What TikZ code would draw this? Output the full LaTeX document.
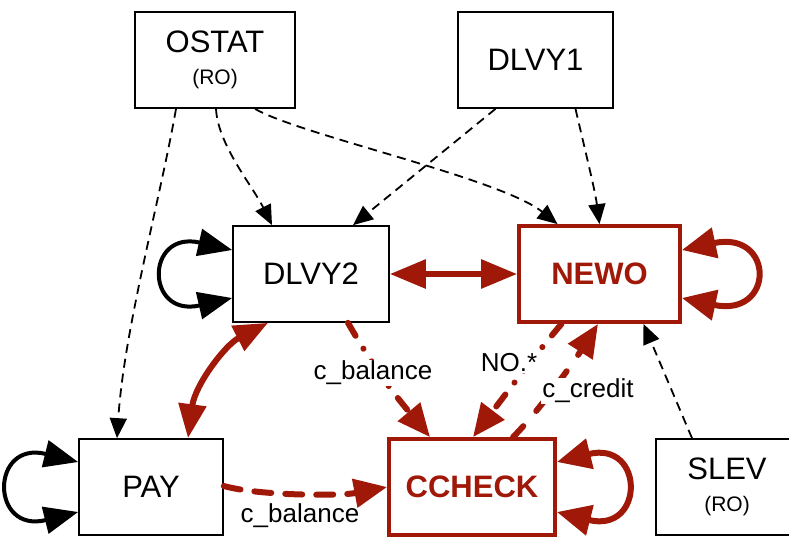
\documentclass[tikz,border=0pt]{standalone}
\usepackage{fontspec}
\setmainfont{Liberation Sans}
\usetikzlibrary{arrows.meta}
\definecolor{dred}{RGB}{160,24,8}
\begin{document}
\begin{tikzpicture}[x=1pt,y=-1pt,
  box/.style={draw=black,line width=1.7pt,minimum height=96pt,inner sep=0pt,
    font=\fontsize{31}{34}\selectfont,align=center,fill=white},
  redbox/.style={box,draw=dred,line width=3.8pt,text=dred,font=\fontsize{31}{34}\selectfont\bfseries},
  lbl/.style={font=\fontsize{26}{30}\selectfont,fill=white,inner sep=1pt},
  thin/.style={draw=black,line width=1.8pt,dash pattern=on 9pt off 6pt,
    -{Triangle[length=20pt,width=17pt]}},
  bloop/.style={draw=black,line width=4pt,
    {Triangle[length=34pt,width=27pt]}-{Triangle[length=34pt,width=27pt]}},
  rloop/.style={draw=dred,line width=6pt,
    {Triangle[length=34pt,width=30pt]}-{Triangle[length=34pt,width=30pt]}},
  rthick/.style={draw=dred,line width=6pt},
  rhead/.style={-{Triangle[length=33pt,width=28pt]}},
  rdash/.style={dash pattern=on 17pt off 14pt,line cap=round},
  rdash2/.style={dash pattern=on 15pt off 20pt,line cap=round},
  rdashdot/.style={dash pattern=on 15pt off 15pt on 0.1pt off 15pt,line cap=round},
]
\useasboundingbox (0,0) rectangle (789,536);
\fill[white] (0,0) rectangle (789,536);

\node[box,minimum width=160pt] (ostat) at (215,60) {OSTAT\\[-2pt]{\fontsize{21}{24}\selectfont (RO)}};
\node[box,minimum width=155pt] (dlvy1) at (535.5,60) {DLVY1};
\node[box,minimum width=156pt] (dlvy2) at (311,274) {DLVY2};
\node[redbox,minimum width=161pt] (newo) at (599.5,274) {NEWO};
\node[box,minimum width=144pt] (pay) at (151,487) {PAY};
\node[redbox,minimum width=166pt] (ccheck) at (472,487) {CCHECK};
\node[box,minimum width=142pt] (slev) at (727,487) {SLEV\\[-2pt]{\fontsize{21}{24}\selectfont (RO)}};

% thin dashed black
\draw[thin] ([xshift=-39pt]ostat.south) .. controls (160,200) and (124,330) .. ([xshift=-34pt]pay.north);
\draw[thin] ([xshift=1pt]ostat.south) .. controls (218,145) and (252,185) .. ([xshift=-39pt]dlvy2.north);
\draw[thin] ([xshift=40pt]ostat.south) .. controls (300,135) and (500,178) .. ([xshift=-42pt]newo.north);
\draw[thin] ([xshift=-40pt]dlvy1.south) -- ([xshift=42pt]dlvy2.north);
\draw[thin] ([xshift=40pt]dlvy1.south) .. controls (585,150) and (595,190) .. (newo.north);
\draw[thin] ([xshift=-35pt]slev.north) -- ([xshift=44pt]newo.south);

% loops
\draw[bloop] ([yshift=24pt]dlvy2.west) .. controls (145,230) and (145,318) .. ([yshift=-24pt]dlvy2.west);
\draw[bloop] ([yshift=25pt]pay.west) .. controls (-10,440) and (-10,534) .. ([yshift=-25pt]pay.west);
\draw[rloop] ([yshift=24pt]newo.east) .. controls (775,230) and (775,318) .. ([yshift=-24pt]newo.east);
\draw[rloop] ([yshift=25pt]ccheck.east) .. controls (645,440) and (645,534) .. ([yshift=-25pt]ccheck.east);

% red thick
\draw[rthick,{Triangle[length=36pt,width=28pt]}-{Triangle[length=36pt,width=28pt]}] (dlvy2.east) -- (newo.west);
\draw[rthick,{Triangle[length=34pt,width=27pt]}-{Triangle[length=34pt,width=27pt]}] ([xshift=-43pt]dlvy2.south) .. controls (225,345) and (195,385) .. ([xshift=37pt]pay.north);
\draw[rthick,rhead,rdashdot] ([xshift=37pt]dlvy2.south) .. controls (375,370) and (395,395) .. ([xshift=-42pt]ccheck.north);
\draw[rthick,rhead,rdashdot] ([xshift=-38pt]newo.south) .. controls (535,355) and (505,395) .. ([xshift=1pt]ccheck.north);
\draw[rthick,rhead,rdash2] ([xshift=41pt]ccheck.north) .. controls (540,410) and (575,360) .. ([xshift=-1.5pt]newo.south);
\draw[rthick,rhead,rdash] ([yshift=1pt]pay.east) .. controls (260,496) and (340,496) .. (ccheck.west);

% labels
\node[lbl] (l1) at (373,373) {c\_balance};
\node[lbl] (l2) at (509,363) {NO.*};
\node[lbl] (l3) at (588,391) {c\_credit};
\node[lbl,fill=none] (l4) at (300,516) {c\_balance};
\end{tikzpicture}
\end{document}
